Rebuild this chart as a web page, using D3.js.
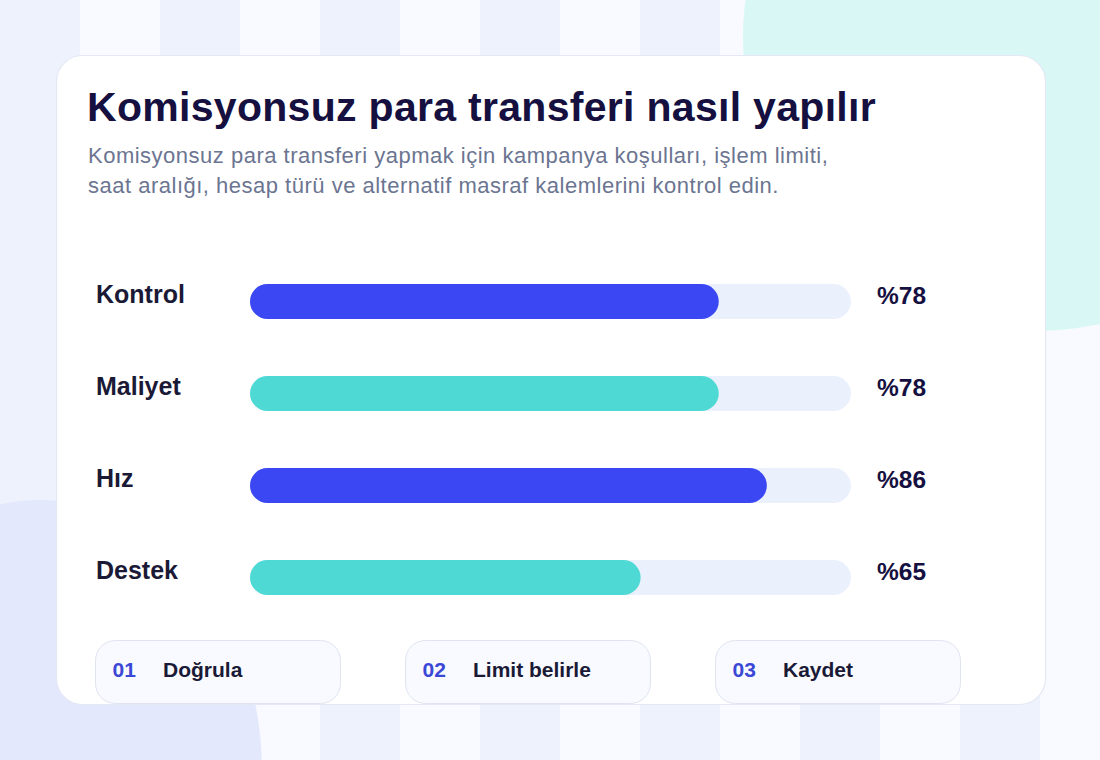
<!DOCTYPE html>
<html>
<head>
<meta charset="utf-8">
<script src="https://cdn.jsdelivr.net/npm/d3@7"></script>
<style>
    html, body { margin: 0; padding: 0; background: #f8faff; }
    svg { display: block; font-family: "Liberation Sans", Arial, sans-serif; }
</style>
</head>
<body>
<div id="chart"></div>
<script>
const title = 'Komisyonsuz para transferi nasıl yapılır';
const subtitleLines = [
    'Komisyonsuz para transferi yapmak için kampanya koşulları, işlem limiti,',
    'saat aralığı, hesap türü ve alternatif masraf kalemlerini kontrol edin.'
];
const categories = ['Kontrol', 'Maliyet', 'Hız', 'Destek'];
const values = [78, 78, 86, 65];
const stepNumbers = ['01', '02', '03'];
const stepLabels = ['Doğrula', 'Limit belirle', 'Kaydet'];

const width = 1100;
const height = 760;

const svg = d3.select('#chart')
    .append('svg')
    .attr('width', width)
    .attr('height', height);

// background stripes
svg.append('g')
    .selectAll('rect')
    .data(d3.range(14))
    .enter().append('rect')
    .attr('x', d => d * 80)
    .attr('y', 0)
    .attr('width', 80)
    .attr('height', height)
    .attr('fill', d => d % 2 === 0 ? '#eef2fd' : '#f8faff');

// soft blobs
svg.append('circle')
    .attr('cx', 1036)
    .attr('cy', 38)
    .attr('r', 293)
    .attr('fill', '#d9f8f5');

svg.append('ellipse')
    .attr('cx', 40)
    .attr('cy', 770)
    .attr('rx', 222)
    .attr('ry', 270)
    .attr('fill', '#e4e8fc');

// main card
svg.append('rect')
    .attr('x', 56.5)
    .attr('y', 55.5)
    .attr('width', 989)
    .attr('height', 649)
    .attr('rx', 26)
    .attr('fill', '#ffffff')
    .attr('stroke', '#e3e8f4')
    .attr('stroke-width', 1.2);

svg.append('text')
    .attr('x', 87)
    .attr('y', 121)
    .attr('fill', '#15103f')
    .style('font-size', '41px')
    .style('font-weight', 700)
    .style('letter-spacing', '0.3px')
    .text(title);

svg.append('g')
    .selectAll('text')
    .data(subtitleLines)
    .enter().append('text')
    .attr('x', 88)
    .attr('y', (d, i) => 163 + i * 30)
    .attr('fill', '#6b7591')
    .style('font-size', '22px')
    .style('letter-spacing', '0.5px')
    .text(d => d);

// bars
const x = d3.scaleLinear().domain([0, 100]).range([250, 851]);
const y = d3.scalePoint().domain(categories).range([301.5, 577.5]);
const barH = 35;

const rows = svg.append('g')
    .selectAll('.row')
    .data(categories.map((c, i) => ({ category: c, value: values[i], i })))
    .enter().append('g')
    .attr('class', 'row');

rows.append('rect')
    .attr('x', x(0))
    .attr('y', d => y(d.category) - barH / 2)
    .attr('width', x(100) - x(0))
    .attr('height', barH)
    .attr('rx', barH / 2)
    .attr('fill', '#ebf1fc');

rows.append('rect')
    .attr('x', x(0))
    .attr('y', d => y(d.category) - barH / 2)
    .attr('width', d => x(d.value) - x(0))
    .attr('height', barH)
    .attr('rx', barH / 2)
    .attr('fill', d => d.i % 2 === 0 ? '#3a47f2' : '#4fd9d4');

rows.append('text')
    .attr('x', 96)
    .attr('y', d => y(d.category) + 1.5)
    .attr('fill', '#1b1a36')
    .style('font-size', '25px')
    .style('font-weight', 700)
    .text(d => d.category);

rows.append('text')
    .attr('x', 877)
    .attr('y', d => y(d.category) + 2)
    .attr('fill', '#15103f')
    .style('font-size', '24.5px')
    .style('font-weight', 700)
    .text(d => '%' + d.value);

// step cards
const steps = svg.append('g')
    .selectAll('.step')
    .data(stepNumbers.map((n, i) => ({ n, label: stepLabels[i], i })))
    .enter().append('g')
    .attr('class', 'step')
    .attr('transform', d => `translate(${95.5 + d.i * 310},640.5)`);

steps.append('rect')
    .attr('width', 245)
    .attr('height', 63)
    .attr('rx', 20)
    .attr('fill', '#f8faff')
    .attr('stroke', '#dfe4f0');

steps.append('text')
    .attr('x', 17)
    .attr('y', 36.5)
    .attr('fill', '#3b48d6')
    .style('font-size', '21px')
    .style('font-weight', 700)
    .text(d => d.n);

steps.append('text')
    .attr('x', 67.5)
    .attr('y', 36.5)
    .attr('fill', '#1b1a36')
    .style('font-size', '21px')
    .style('font-weight', 700)
    .text(d => d.label);
</script>
</body>
</html>
